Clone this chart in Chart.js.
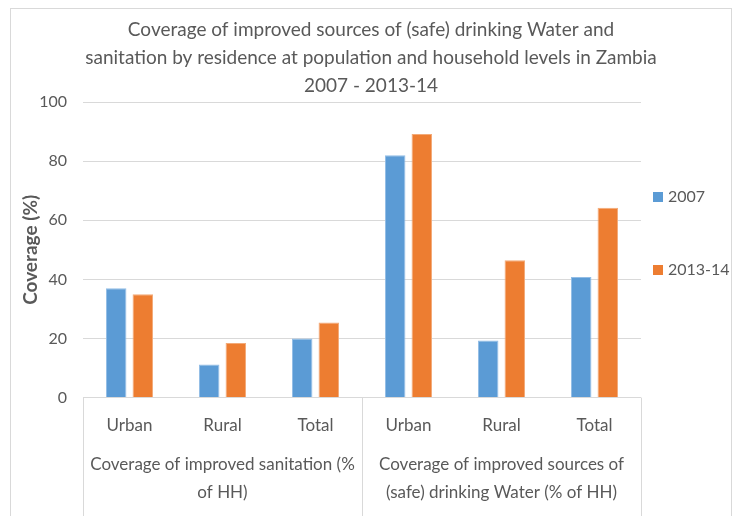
<!DOCTYPE html>
<html>
<head>
<meta charset="utf-8">
<title>Water and sanitation coverage, Zambia</title>
<script src="https://cdn.jsdelivr.net/npm/chart.js@4.4.1/dist/chart.umd.min.js"></script>
<style>
  html, body { margin: 0; padding: 0; background: #fff; overflow: hidden; }
  .frame { position: absolute; left: 10px; top: 8px; width: 720px; height: 560px; border: 1px solid #d9d9d9; }
  #coverageChart { position: absolute; left: 0; top: 0; }
</style>
</head>
<body>
<div class="frame"></div>
<canvas id="coverageChart" width="732" height="516"></canvas>
<script>
// residence categories, two indicator groups of three
const residence = ['Urban', 'Rural', 'Total', 'Urban', 'Rural', 'Total'];
const indicatorGroups = [
    ['Coverage of improved sanitation (%', 'of HH)'],
    ['Coverage of improved sources of', '(safe) drinking Water (% of HH)']
];
const groupSize = 3;

const seriesNames = ['2007', '2013-14'];
const coverage2007 = [37, 11.2, 20, 82, 19.3, 40.8];
const coverage2013 = [35, 18.5, 25.4, 89.2, 46.5, 64.2];
const seriesColors = ['#5b9bd5', '#ed7d31'];
const seriesEdges = ['#92bde6', '#f3aa78'];

const yTicks = [0, 20, 40, 60, 80, 100];

const titleLines = [
    'Coverage of improved sources of (safe) drinking Water and',
    'sanitation by residence at population and household levels in Zambia',
    '2007 - 2013-14'
];

const textColor = '#595959';
const gridColor = '#d9d9d9';
const fontFamily = 'Lato, "Open Sans", sans-serif';

// second row of the category axis: indicator names with separators
const groupAxis = {
    id: 'groupAxis',
    afterDraw(chart) {
        const {ctx, chartArea} = chart;
        const x = chart.scales.x;
        const half = (x.getPixelForValue(1) - x.getPixelForValue(0)) / 2;
        ctx.save();
        ctx.strokeStyle = gridColor;
        ctx.lineWidth = 1;
        for (let g = 0; g <= indicatorGroups.length; g++) {
            const px = Math.round(x.getPixelForValue(g * groupSize) - half) + 0.5;
            ctx.beginPath();
            ctx.moveTo(px, chartArea.bottom);
            ctx.lineTo(px, chart.height);
            ctx.stroke();
        }
        ctx.fillStyle = textColor;
        ctx.font = '17px ' + fontFamily;
        ctx.textAlign = 'center';
        ctx.textBaseline = 'middle';
        indicatorGroups.forEach((lines, g) => {
            const cx = (x.getPixelForValue(g * groupSize) + x.getPixelForValue(g * groupSize + groupSize - 1)) / 2;
            lines.forEach((line, i) => {
                ctx.fillText(line, cx, chartArea.bottom + 67 + i * 28);
            });
        });
        ctx.restore();
    }
};

// legend in the space kept free on the right
const sideLegend = {
    id: 'sideLegend',
    afterDraw(chart) {
        const {ctx, chartArea} = chart;
        ctx.save();
        ctx.font = '16px ' + fontFamily;
        ctx.textBaseline = 'middle';
        ctx.textAlign = 'left';
        chart.data.datasets.forEach((ds, i) => {
            const cy = chartArea.top + 95 + i * 73;
            const bx = chartArea.right + 12;
            ctx.fillStyle = ds.backgroundColor;
            ctx.fillRect(bx, cy - 5, 10, 10);
            ctx.fillStyle = textColor;
            ctx.fillText(ds.label, bx + 15, cy);
        });
        ctx.restore();
    }
};

new Chart(document.getElementById('coverageChart'), {
    type: 'bar',
    data: {
        labels: residence,
        datasets: [{
            label: seriesNames[0],
            data: coverage2007,
            backgroundColor: seriesColors[0],
            borderColor: seriesEdges[0],
            borderWidth: 1
        }, {
            label: seriesNames[1],
            data: coverage2013,
            backgroundColor: seriesColors[1],
            borderColor: seriesEdges[1],
            borderWidth: 1
        }]
    },
    options: {
        responsive: false,
        animation: false,
        categoryPercentage: 0.572,
        barPercentage: 0.77,
        layout: {
            padding: {left: 10, right: 0, top: 0, bottom: 62}
        },
        plugins: {
            legend: {display: false},
            tooltip: {enabled: false},
            title: {
                display: true,
                text: titleLines,
                color: textColor,
                font: {family: fontFamily, size: 19, weight: 'normal', lineHeight: 28 / 19},
                padding: {top: 16, bottom: 2}
            }
        },
        scales: {
            x: {
                grid: {display: false, drawTicks: false},
                border: {display: false},
                ticks: {
                    color: textColor,
                    font: {family: fontFamily, size: 17},
                    padding: 18,
                    maxRotation: 0,
                    autoSkip: false
                }
            },
            y: {
                min: yTicks[0],
                max: yTicks[yTicks.length - 1],
                afterBuildTicks(scale) {
                    scale.ticks = yTicks.map(v => ({value: v}));
                },
                afterFit(scale) {
                    scale.width = 73;
                },
                grid: {color: gridColor, drawTicks: false},
                border: {display: false},
                ticks: {
                    color: textColor,
                    font: {family: fontFamily, size: 16},
                    padding: 16
                },
                title: {
                    display: true,
                    text: 'Coverage (%)',
                    color: textColor,
                    font: {family: fontFamily, size: 19, weight: 'bold'},
                    padding: {top: 9, bottom: 0}
                }
            },
            // keeps room for the legend at the right
            legendSpace: {
                position: 'right',
                grid: {display: false},
                border: {display: false},
                ticks: {display: false},
                afterFit(scale) {
                    scale.width = 91;
                }
            }
        }
    },
    plugins: [groupAxis, sideLegend]
});
</script>
</body>
</html>
